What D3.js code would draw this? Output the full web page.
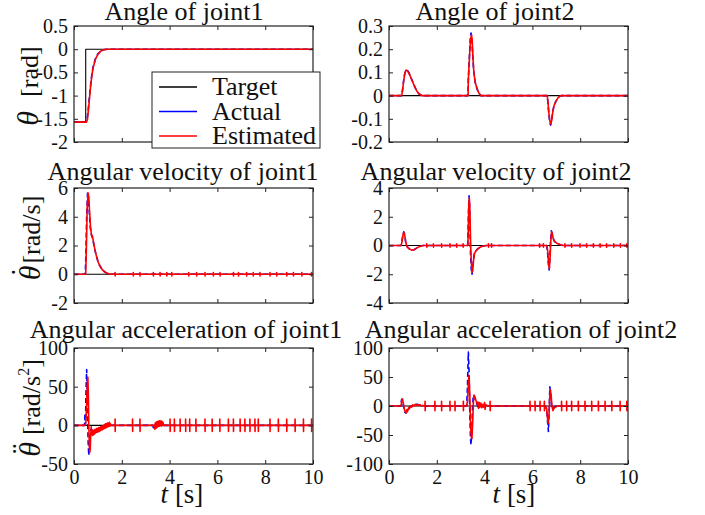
<!DOCTYPE html>
<html>
<head>
<meta charset="utf-8">
<script src="https://cdn.jsdelivr.net/npm/d3@7"></script>
<style>
  html, body { margin: 0; padding: 0; background: #fff; }
  svg { display: block; font-family: "Liberation Serif", "Times New Roman", serif; }
</style>
</head>
<body>
<svg id="chart" width="705" height="515"></svg>
<script>
// ---------------- data ----------------
const timeDomain = [0, 10];
const timeTicks = [0, 2, 4, 6, 8, 10];

const seriesNames = ["Target", "Actual", "Estimated"];

// joint 1 angle [rad]
const angle1Ticks = [-2, -1.5, -1, -0.5, 0, 0.5];
const angle1Target = [[0, -1.5708], [0.49, -1.5708], [0.49, 0], [10, 0]];
const angle1Actual = [[0, -1.5708], [0.5, -1.5708], [0.55, -1.5], [0.6, -1.28], [0.65, -1.0], [0.7, -0.74], [0.75, -0.53], [0.8, -0.38], [0.9, -0.2], [1.0, -0.1], [1.1, -0.05], [1.2, -0.02], [1.3, -0.008], [1.45, 0], [10, 0]];
const angle1Estimated = [[0, -1.5708], [0.52, -1.5708], [0.56, -1.52], [0.6, -1.33], [0.65, -1.05], [0.7, -0.78], [0.75, -0.56], [0.8, -0.4], [0.9, -0.21], [1.0, -0.11], [1.1, -0.05], [1.2, -0.02], [1.3, -0.008], [1.45, 0], [10, 0]];

// joint 2 angle [rad]
const angle2Ticks = [-0.2, -0.1, 0, 0.1, 0.2, 0.3];
const angle2Target = [[0, 0], [10, 0]];
const angle2Actual = [[0, 0], [0.52, 0], [0.56, 0.02], [0.6, 0.055], [0.65, 0.09], [0.7, 0.108], [0.75, 0.11], [0.8, 0.105], [0.86, 0.093], [0.95, 0.07], [1.05, 0.045], [1.15, 0.022], [1.25, 0.008], [1.35, 0.002], [1.4, 0],
  [3.3, 0], [3.32, 0.07], [3.36, 0.16], [3.4, 0.24], [3.43, 0.27], [3.46, 0.255], [3.5, 0.18], [3.54, 0.11], [3.6, 0.06], [3.68, 0.03], [3.76, 0.01], [3.84, 0],
  [6.61, 0], [6.64, -0.02], [6.68, -0.07], [6.72, -0.11], [6.76, -0.127], [6.8, -0.11], [6.85, -0.07], [6.9, -0.045], [6.98, -0.025], [7.06, -0.012], [7.14, -0.003], [7.2, 0], [10, 0]];
const angle2Estimated = [[0, 0], [0.53, 0], [0.57, 0.025], [0.61, 0.06], [0.66, 0.095], [0.71, 0.11], [0.76, 0.108], [0.81, 0.1], [0.87, 0.088], [0.96, 0.066], [1.06, 0.042], [1.16, 0.02], [1.26, 0.007], [1.36, 0.001], [1.41, 0],
  [3.31, 0], [3.32, 0.07], [3.37, 0.17], [3.41, 0.24], [3.45, 0.262], [3.48, 0.24], [3.51, 0.17], [3.55, 0.1], [3.61, 0.055], [3.69, 0.028], [3.77, 0.009], [3.85, 0],
  [6.62, 0], [6.65, -0.025], [6.69, -0.075], [6.73, -0.11], [6.77, -0.122], [6.81, -0.105], [6.86, -0.066], [6.91, -0.042], [6.99, -0.023], [7.07, -0.01], [7.15, -0.002], [7.2, 0], [10, 0]];

// joint 1 angular velocity [rad/s]
const vel1Ticks = [-2, 0, 2, 4, 6];
const vel1Target = [[0, 0], [10, 0]];
const vel1Actual = [[0, 0], [0.47, 0], [0.5, 1.5], [0.53, 4.0], [0.57, 5.75], [0.6, 5.4], [0.64, 4.3], [0.68, 3.3], [0.72, 2.8], [0.76, 2.6], [0.8, 2.3], [0.86, 1.8], [0.93, 1.3], [1.0, 0.9], [1.08, 0.6], [1.18, 0.33], [1.28, 0.17], [1.38, 0.07], [1.5, 0.02], [1.6, 0], [10, 0]];
const vel1Estimated = [[0, 0], [0.49, 0], [0.52, 2.0], [0.55, 4.6], [0.59, 5.65], [0.62, 5.35], [0.65, 4.4], [0.69, 3.3], [0.73, 2.75], [0.77, 2.65], [0.81, 2.3], [0.87, 1.75], [0.94, 1.25], [1.01, 0.85], [1.09, 0.55], [1.19, 0.3], [1.29, 0.15], [1.39, 0.06], [1.5, 0.02], [1.6, 0], [10, 0]];
const vel1Spikes = [1.72, 2.48, 2.76, 3.32, 3.6, 3.88, 4.09, 4.8, 5.13, 5.48, 5.83, 6.11, 6.67, 6.88, 7.22, 7.5, 7.78, 8.2, 8.48, 8.9, 9.18, 9.53, 9.94];
const vel1SpikeSize = 0.12;

// joint 2 angular velocity [rad/s]
const vel2Ticks = [-4, -2, 0, 2, 4];
const vel2Target = [[0, 0], [10, 0]];
const vel2Actual = [[0, 0], [0.5, 0], [0.54, 0.3], [0.58, 0.75], [0.62, 0.95], [0.66, 0.7], [0.7, 0.2], [0.75, -0.05], [0.82, -0.2], [0.92, -0.32], [1.02, -0.31], [1.12, -0.22], [1.22, -0.12], [1.32, -0.04], [1.42, 0],
  [3.29, 0], [3.31, 1.0], [3.33, 2.6], [3.35, 3.45], [3.37, 2.9], [3.39, 1.2], [3.41, -0.5], [3.44, -1.6], [3.47, -2.0], [3.5, -1.7], [3.53, -1.0], [3.57, -0.55], [3.62, -0.4], [3.7, -0.25], [3.8, -0.12], [3.9, -0.05], [4.0, -0.02], [4.1, 0],
  [6.6, 0], [6.63, -0.4], [6.67, -1.3], [6.7, -1.7], [6.73, -0.9], [6.76, 0.3], [6.79, 1.02], [6.82, 0.9], [6.86, 0.55], [6.91, 0.32], [6.99, 0.18], [7.09, 0.1], [7.19, 0.04], [7.3, 0], [10, 0]];
const vel2Estimated = [[0, 0], [0.51, 0], [0.55, 0.3], [0.59, 0.8], [0.63, 0.9], [0.67, 0.6], [0.71, 0.15], [0.76, -0.1], [0.84, -0.22], [0.94, -0.32], [1.04, -0.3], [1.14, -0.2], [1.24, -0.1], [1.34, -0.03], [1.44, 0],
  [3.3, 0], [3.32, 1.3], [3.34, 2.9], [3.36, 3.3], [3.38, 2.7], [3.4, 1.3], [3.42, -0.2], [3.45, -1.3], [3.48, -1.85], [3.51, -1.6], [3.54, -1.0], [3.58, -0.55], [3.63, -0.4], [3.71, -0.25], [3.81, -0.12], [3.91, -0.05], [4.0, -0.02], [4.1, 0],
  [6.61, 0], [6.64, -0.4], [6.68, -1.3], [6.71, -1.6], [6.74, -0.8], [6.77, 0.3], [6.8, 0.95], [6.83, 0.85], [6.87, 0.5], [6.92, 0.3], [7.0, 0.18], [7.1, 0.1], [7.2, 0.04], [7.3, 0], [10, 0]];
const vel2Spikes = [1.58, 1.86, 2.2, 2.55, 2.83, 3.1, 4.16, 4.29, 6.3, 6.46, 7.36, 7.64, 7.99, 8.27, 8.55, 8.83, 9.1, 9.4, 9.68, 9.95];
const vel2SpikeSize = 0.12;

// joint 1 angular acceleration [rad/s^2]
const acc1Ticks = [-50, 0, 50, 100];
const acc1Target = [[0, 0], [10, 0]];
const acc1Actual = [[0, 0], [0.44, 0], [0.46, 15], [0.48, 0], [0.5, 40], [0.53, 72], [0.56, 30], [0.59, -20], [0.62, -39], [0.65, -25], [0.68, -8], [0.72, -5], [0.8, -8], [0.9, -7], [1.0, -5], [1.1, -4], [1.2, -3], [1.3, -2], [1.4, -1], [1.55, 0], [3.3, 0], [3.32, -3], [3.34, 0], [10, 0]];
const acc1Estimated = [[0, 0], [0.47, 0], [0.5, 5], [0.53, 30], [0.56, 55], [0.58, 62], [0.6, 40], [0.62, 0], [0.64, -25], [0.66, -35], [0.68, -30], [0.7, -12], [0.72, -2], [0.74, -12],
  [0.76, -6], [0.78, -13], [0.8, -7], [0.82, -12], [0.84, -6], [0.86, -11], [0.88, -5], [0.9, -10], [0.92, -5], [0.94, -9], [0.96, -4], [0.98, -9], [1.0, -4], [1.02, -8], [1.04, -3], [1.06, -8],
  [1.08, -3], [1.1, -7], [1.12, -2], [1.14, -6], [1.16, -1], [1.18, -6], [1.2, -1], [1.22, -5], [1.24, 0], [1.26, -4], [1.28, 1], [1.3, -4], [1.32, 2], [1.34, -3], [1.36, 2], [1.38, -2],
  [1.4, 3], [1.42, -2], [1.44, 3], [1.46, -1], [1.48, 4], [1.5, -1], [1.52, 2], [1.55, 0],
  [3.36, 0], [3.38, -5], [3.4, 3], [3.42, -4], [3.44, 4], [3.46, -3], [3.48, 5], [3.5, -2], [3.52, 5], [3.54, -1], [3.56, 6], [3.58, -1], [3.6, 5], [3.62, 0], [3.64, 6], [3.66, -1], [3.68, 5], [3.7, 0], [3.72, 4], [3.75, 0], [10, 0]];
const acc1Spikes = [1.72, 2.45, 2.76, 4.02, 4.2, 4.44, 4.67, 4.84, 5.1, 5.48, 5.78, 6.1, 6.46, 6.67, 6.95, 7.15, 7.36, 7.57, 7.71, 8.2, 8.55, 8.9, 9.25, 9.6, 9.94];
const acc1SpikeSize = 8;

// joint 2 angular acceleration [rad/s^2]
const acc2Ticks = [-100, -50, 0, 50, 100];
const acc2Target = [[0, 0], [10, 0]];
const acc2Actual = [[0, 0], [0.5, 0], [0.52, 10], [0.55, 12], [0.59, 4], [0.63, -6], [0.67, -11], [0.72, -12], [0.78, -7], [0.85, -2], [0.95, 0], [1.05, 2], [1.15, 3], [1.25, 2], [1.35, 1], [1.5, 0],
  [3.25, 0], [3.28, 30], [3.32, 93], [3.35, 60], [3.38, -10], [3.41, -55], [3.43, -67], [3.46, -50], [3.49, -10], [3.52, 15], [3.55, 19], [3.6, 12], [3.65, 6], [3.7, 1], [3.75, -3], [3.8, -1], [3.9, 2], [4.0, -1], [4.1, 1], [4.2, 0],
  [6.55, 0], [6.6, -8], [6.64, -30], [6.67, -44], [6.7, -10], [6.73, 33], [6.76, 25], [6.8, 0], [6.85, -6], [6.9, -2], [7.0, 0], [10, 0]];
const acc2Estimated = [[0, 0], [0.5, 0], [0.53, 8], [0.56, 12], [0.6, 5], [0.64, -5], [0.68, -10], [0.72, -12], [0.75, -6], [0.78, -9], [0.82, -3], [0.85, -5], [0.9, 0], [0.95, -2], [1.0, 2], [1.05, 0], [1.1, 3], [1.15, 1], [1.2, 3], [1.25, 1], [1.3, 2], [1.35, 0], [1.4, 1], [1.5, 0],
  [3.25, 0], [3.29, 10], [3.32, 40], [3.35, 53], [3.38, 20], [3.41, -30], [3.44, -52], [3.47, -56], [3.5, -30], [3.53, 5], [3.56, 19], [3.6, 15], [3.65, 8], [3.7, 2], [3.72, 7], [3.75, -4], [3.78, 6], [3.8, -2], [3.84, 5], [3.88, -3], [3.9, 3], [3.95, -2], [4.0, 6], [4.02, -6], [4.05, 2], [4.1, 1], [4.2, 0],
  [6.55, 0], [6.6, -5], [6.63, -20], [6.66, -30], [6.69, -20], [6.72, 10], [6.75, 28], [6.78, 20], [6.82, 0], [6.86, -8], [6.9, -4], [6.95, -2], [7.05, 0], [10, 0]];
const acc2Spikes = [1.51, 1.92, 2.2, 2.55, 2.76, 3.11, 4.23, 5.9, 6.11, 6.32, 6.5, 7.22, 7.43, 7.64, 7.92, 8.2, 8.48, 8.76, 9.04, 9.32, 9.67, 9.95];
const acc2SpikeSize = 8;

// ---------------- layout ----------------
const svg = d3.select("#chart");
const colX = [[74, 313], [389, 628]];
const rowY = [[26, 142], [188, 303], [348, 464]];
const titleBaseline = [20, 180, 338];
const colors = { Target: "#000000", Actual: "#0000ff", Estimated: "#ff0000" };
const serif = '"Liberation Serif", "Times New Roman", serif';

// insert thin measurement spikes into a piecewise series that is zero at those times
function withSpikes(points, times, size) {
  const extra = [];
  times.forEach(t => {
    extra.push([t - 0.004, 0], [t, size], [t + 0.004, -size], [t + 0.008, 0]);
  });
  return points.concat(extra).sort((a, b) => a[0] - b[0]);
}

const panels = [
  { col: 0, row: 0, title: "Angle of joint1", titleX: 184, ticks: angle1Ticks,
    series: [angle1Target, angle1Actual, angle1Estimated] },
  { col: 1, row: 0, title: "Angle of joint2", titleX: 495, ticks: angle2Ticks,
    series: [angle2Target, angle2Actual, angle2Estimated] },
  { col: 0, row: 1, title: "Angular velocity of joint1", titleX: 183, ticks: vel1Ticks,
    series: [vel1Target, vel1Actual, withSpikes(vel1Estimated, vel1Spikes, vel1SpikeSize)] },
  { col: 1, row: 1, title: "Angular velocity of joint2", titleX: 496, ticks: vel2Ticks,
    series: [vel2Target, vel2Actual, withSpikes(vel2Estimated, vel2Spikes, vel2SpikeSize)] },
  { col: 0, row: 2, title: "Angular acceleration of joint1", titleX: 186, ticks: acc1Ticks,
    series: [acc1Target, acc1Actual, withSpikes(acc1Estimated, acc1Spikes, acc1SpikeSize)] },
  { col: 1, row: 2, title: "Angular acceleration of joint2", titleX: 521, ticks: acc2Ticks,
    series: [acc2Target, acc2Actual, withSpikes(acc2Estimated, acc2Spikes, acc2SpikeSize)] }
];

const defs = svg.append("defs");

panels.forEach((p, i) => {
  const [x0, x1] = colX[p.col];
  const [yTop, yBot] = rowY[p.row];
  const x = d3.scaleLinear().domain(timeDomain).range([x0, x1]);
  const y = d3.scaleLinear().domain(d3.extent(p.ticks)).range([yBot, yTop]);

  defs.append("clipPath").attr("id", "clip" + i)
    .append("rect").attr("x", x0).attr("y", yTop).attr("width", x1 - x0).attr("height", yBot - yTop);

  const g = svg.append("g");
  const line = d3.line().x(d => x(d[0])).y(d => y(d[1]));
  const plot = g.append("g").attr("clip-path", `url(#clip${i})`);

  p.series.forEach((pts, k) => {
    const name = seriesNames[k];
    plot.append("path")
      .attr("d", line(pts))
      .attr("fill", "none")
      .attr("stroke", colors[name])
      .attr("stroke-width", name === "Target" ? 1.1 : 1.6)
      .attr("stroke-dasharray", name === "Actual" ? "5,3" : null)
      .attr("stroke-linejoin", "round");
  });

  const fmt = v => String(v);
  const tickStyle = sel => {
    sel.attr("font-family", serif);
    sel.select(".domain").remove();
    sel.selectAll(".tick line").attr("stroke", "#222");
    sel.selectAll(".tick text").attr("font-size", 20).attr("fill", "#111");
  };

  // bottom axis (labels only on last row)
  g.append("g").attr("transform", `translate(0,${yBot})`)
    .call(d3.axisBottom(x).tickValues(timeTicks).tickSizeInner(-4).tickSizeOuter(0).tickPadding(6)
      .tickFormat(p.row === 2 ? fmt : () => ""))
    .call(tickStyle);
  g.append("g").attr("transform", `translate(0,${yTop})`)
    .call(d3.axisTop(x).tickValues(timeTicks).tickSizeInner(-4).tickSizeOuter(0).tickFormat(() => ""))
    .call(tickStyle);
  g.append("g").attr("transform", `translate(${x0},0)`)
    .call(d3.axisLeft(y).tickValues(p.ticks).tickSizeInner(-4).tickSizeOuter(0).tickPadding(6).tickFormat(fmt))
    .call(tickStyle);
  g.append("g").attr("transform", `translate(${x1},0)`)
    .call(d3.axisRight(y).tickValues(p.ticks).tickSizeInner(-4).tickSizeOuter(0).tickFormat(() => ""))
    .call(tickStyle);

  g.append("rect").attr("x", x0).attr("y", yTop).attr("width", x1 - x0).attr("height", yBot - yTop)
    .attr("fill", "none").attr("stroke", "#222").attr("stroke-width", 1.2);

  g.append("text").attr("x", p.titleX).attr("y", titleBaseline[p.row]).attr("text-anchor", "middle")
    .attr("font-size", 26).attr("fill", "#111").text(p.title);

  if (p.row === 2) {
    const lab = g.append("text").attr("x", p.col === 0 ? 182 : 514).attr("y", 503)
      .attr("text-anchor", "middle").attr("font-size", 27).attr("fill", "#111");
    lab.append("tspan").attr("font-style", "italic").text("t");
    lab.append("tspan").text(" [s]");
  }
});

// rotated y-axis labels with theta and derivative dots
function yLabel(bx, cy, gap, unit, dots, sup) {
  const grp = svg.append("g").attr("transform", `translate(${bx},${cy}) rotate(-90)`);
  const t = grp.append("text").attr("y", 0).attr("fill", "#111");
  const th = t.append("tspan").attr("font-style", "italic").attr("font-size", 30).text("θ");
  t.append("tspan").attr("font-size", 26).attr("dx", gap).text("[" + unit);
  if (sup) {
    t.append("tspan").attr("font-size", 16).attr("dy", -11).text(sup);
    t.append("tspan").attr("font-size", 26).attr("dy", 11).text("]");
  } else {
    t.append("tspan").attr("font-size", 26).text("]");
  }
  const w = t.node().getComputedTextLength() + gap;
  const thW = th.node().getComputedTextLength();
  t.attr("x", -w / 2);
  if (dots) {
    grp.append("text").attr("x", -w / 2 + thW * 0.55).attr("y", -8)
      .attr("text-anchor", "middle").attr("font-size", 30).attr("fill", "#111").text(dots);
  }
}
yLabel(38, 86, 14, "rad", null, null);
yLabel(40, 238, 2, "rad/s", "˙", null);
yLabel(40, 408, 7, "rad/s", "¨", "2");

// legend on the first panel
const lg = svg.append("g");
lg.append("rect").attr("x", 152).attr("y", 72).attr("width", 168).attr("height", 76)
  .attr("fill", "#fff").attr("stroke", "#222").attr("stroke-width", 1);
seriesNames.forEach((name, k) => {
  const yy = 87 + k * 24.5;
  lg.append("line").attr("x1", 159).attr("x2", 197).attr("y1", yy).attr("y2", yy)
    .attr("stroke", colors[name]).attr("stroke-width", 1.5);
  lg.append("text").attr("x", 212).attr("y", yy + 8).attr("font-size", 26).attr("fill", "#111").text(name);
});
</script>
</body>
</html>
